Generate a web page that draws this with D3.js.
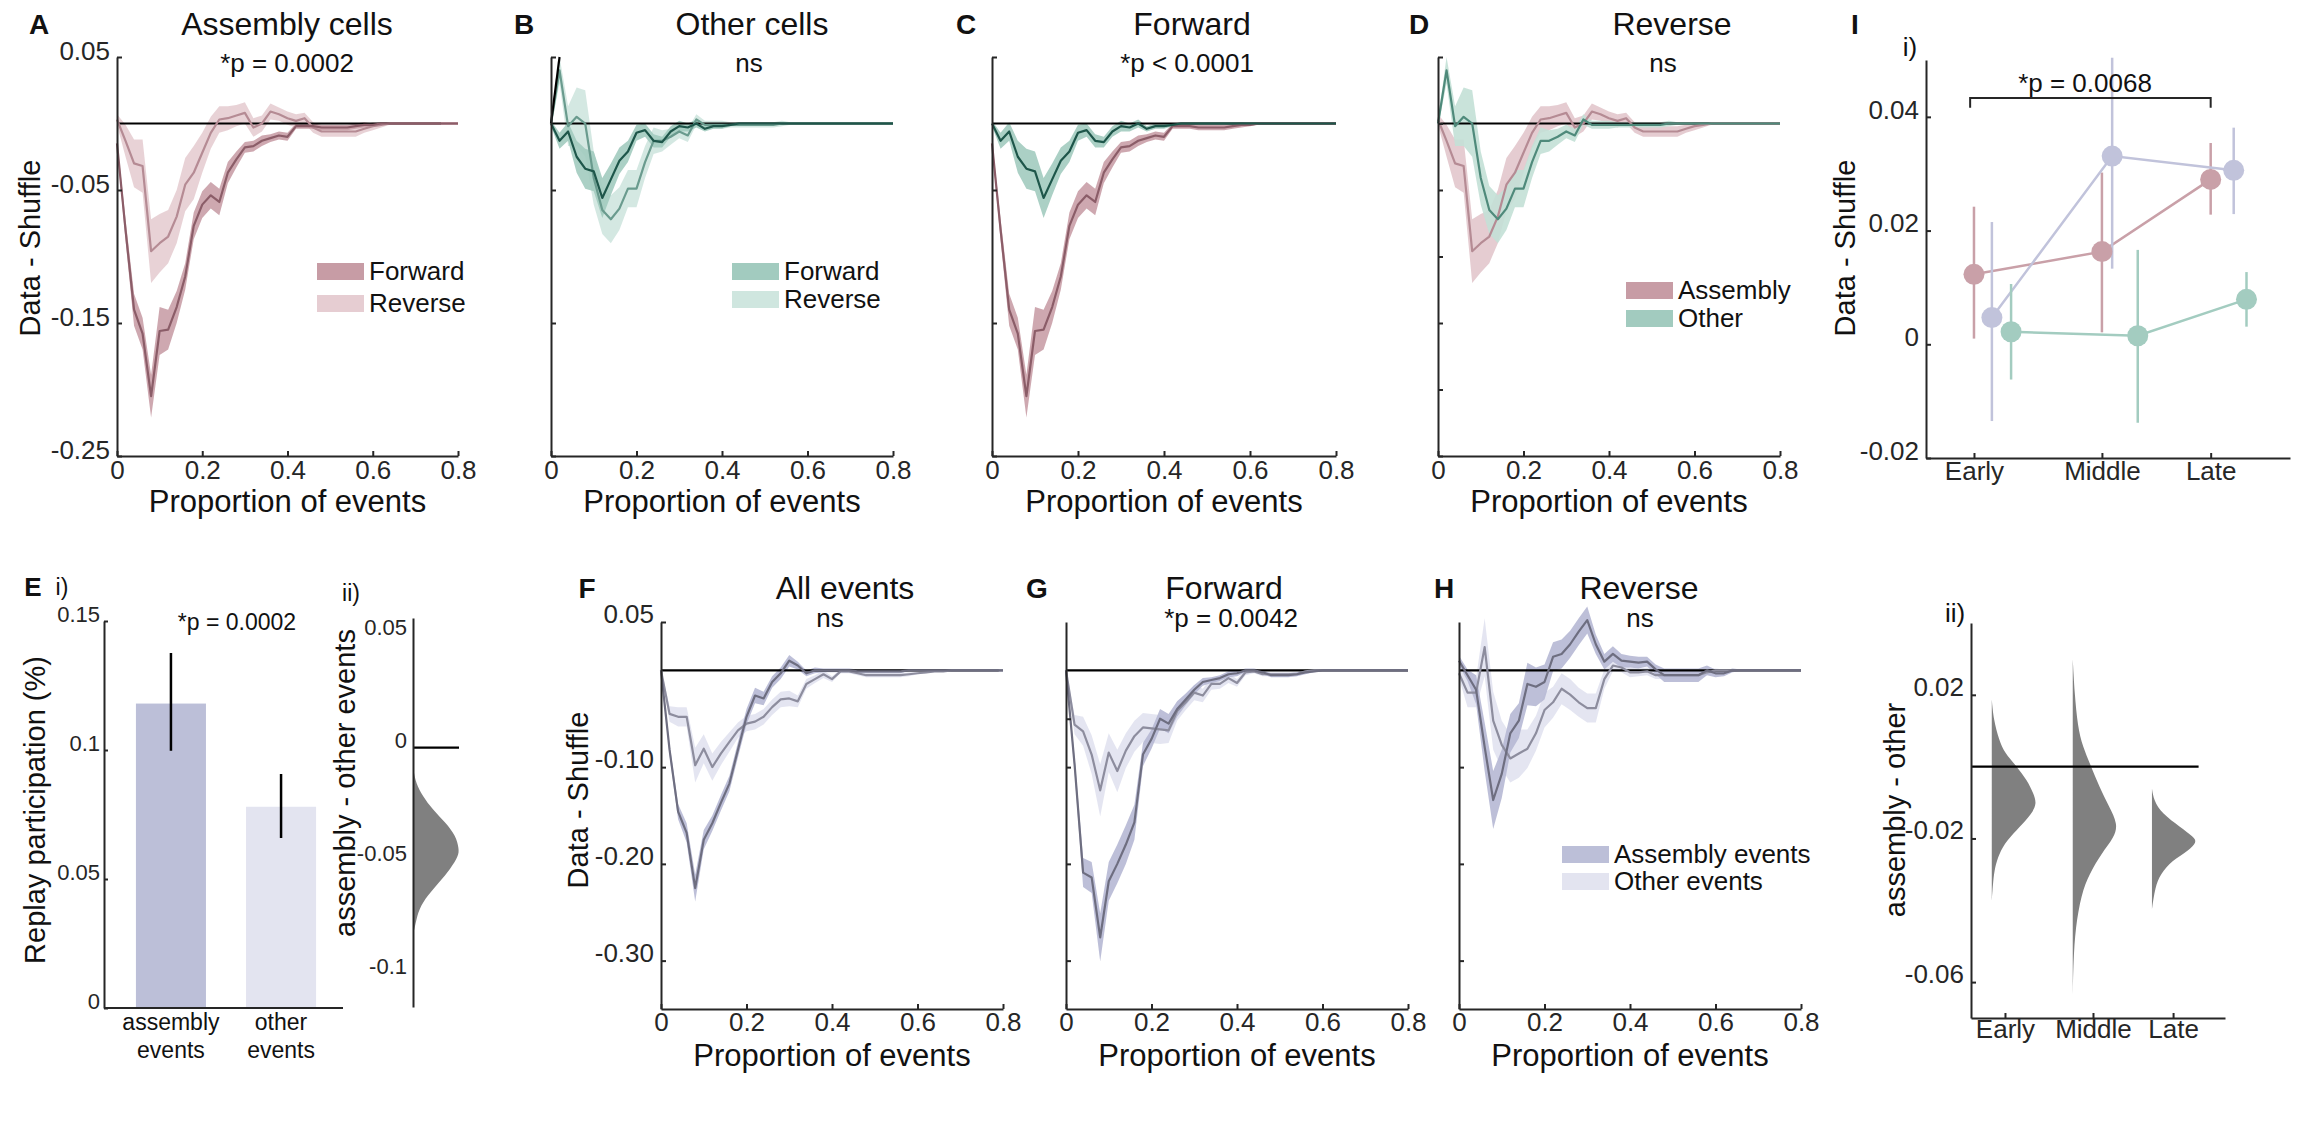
<!DOCTYPE html>
<html>
<head>
<meta charset="utf-8">
<title>Assembly replay figure</title>
<script src="https://cdn.jsdelivr.net/npm/d3@7"></script>
<style>
  body { margin: 0; background: #fff; }
  svg text { font-family: "Liberation Sans", Arial, Helvetica, sans-serif; }
</style>
</head>
<body>
<svg id="fig" width="2308" height="1126"></svg>
<script>

// ---------- data ----------
const propX = [0,0.02,0.04,0.06,0.08,0.1,0.12,0.14,0.16,0.18,
  0.2,0.22,0.24,0.26,0.28,0.3,0.32,0.34,0.36,0.38,
  0.4,0.42,0.44,0.46,0.48,0.5,0.52,0.54,0.56,0.58,
  0.6,0.62,0.64,0.66,0.68,0.7,0.72,0.74,0.76,0.78,0.8];
const xTickVals = [0, 0.2, 0.4, 0.6, 0.8];
const xTickLabels = ["0", "0.2", "0.4", "0.6", "0.8"];

// assembly cells
const asmFwd = [-0.015,-0.080,-0.140,-0.158,-0.205,-0.156,-0.155,-0.138,-0.115,-0.077,
  -0.061,-0.054,-0.059,-0.037,-0.027,-0.018,-0.017,-0.013,-0.011,-0.009,
  -0.010,-0.002,-0.002,-0.002,-0.003,-0.003,-0.003,-0.003,-0.002,-0.001,
  -0.001,0,0,0,0,0,0,0,0,0,0];
const asmFwdErr = [0.003,0.008,0.012,0.012,0.016,0.018,0.015,0.012,0.010,0.010,
  0.010,0.010,0.010,0.008,0.006,0.004,0.004,0.004,0.003,0.003,
  0.003,0.002,0.002,0.002,0.002,0.002,0.002,0.002,0.002,0.002,
  0.001,0.001,0.001,0.001,0.001,0.001,0.001,0.001,0.001,0.001,0.001];
const asmRev = [0.003,-0.013,-0.030,-0.032,-0.096,-0.090,-0.085,-0.070,-0.046,-0.037,
  -0.022,-0.007,0.003,0.004,0.006,0.008,-0.003,0.000,0.009,0.007,
  0.004,0.002,0.004,-0.003,-0.006,-0.006,-0.006,-0.006,-0.006,-0.004,
  -0.002,-0.001,0,0,0,0,0,0,0,0,0];
const asmRevErr = [0.004,0.012,0.018,0.020,0.024,0.022,0.020,0.020,0.020,0.020,
  0.015,0.012,0.010,0.009,0.008,0.008,0.007,0.006,0.006,0.005,
  0.005,0.005,0.004,0.004,0.004,0.004,0.004,0.004,0.004,0.003,
  0.003,0.002,0.001,0.001,0.001,0.001,0.001,0.001,0.001,0.001,0.001];

// other cells
const othFwd = [0,-0.013,-0.006,-0.025,-0.034,-0.036,-0.056,-0.042,-0.028,-0.021,
  -0.007,-0.005,-0.013,-0.014,-0.006,-0.002,-0.003,0,-0.004,-0.002,
  -0.002,-0.001,0,0,0,0,0,0,0,0,
  0,0,0,0,0,0,0,0,0,0,0];
const othFwdErr = [0.002,0.006,0.007,0.012,0.015,0.015,0.015,0.012,0.010,0.008,
  0.006,0.005,0.005,0.004,0.004,0.004,0.003,0.003,0.002,0.002,
  0.002,0.001,0.001,0.001,0.001,0.001,0.001,0.001,0.001,0.001,
  0.001,0.001,0.001,0.001,0.001,0.001,0.001,0.001,0.001,0.001,0.001];
const othRev = [0,0.040,-0.002,0.005,0,-0.041,-0.065,-0.072,-0.064,-0.049,
  -0.049,-0.029,-0.013,-0.013,-0.010,-0.006,-0.009,0.003,-0.001,-0.001,
  -0.001,-0.001,-0.001,-0.001,-0.001,-0.001,-0.001,0,0,0,
  0,0,0,0,0,0,0,0,0,0,0];
const othRevErr = [0.003,0.010,0.015,0.022,0.025,0.020,0.018,0.018,0.016,0.014,
  0.014,0.012,0.010,0.008,0.006,0.005,0.005,0.004,0.003,0.003,
  0.003,0.002,0.002,0.002,0.002,0.002,0.002,0.002,0.001,0.001,
  0.001,0.001,0.001,0.001,0.001,0.001,0.001,0.001,0.001,0.001,0.001];
const othStrayX = [0, 0.02];
const othStrayY = [0, 0.05];

// assembly events vs other events
const evAll = [0,-0.082,-0.146,-0.168,-0.225,-0.175,-0.158,-0.137,-0.117,-0.082,
  -0.048,-0.026,-0.029,-0.012,-0.003,0.010,0.005,-0.003,0,0,
  0,0,0,-0.001,-0.001,-0.001,-0.001,-0.001,-0.001,0,
  0,0,0,0,0,0,0,0,0,0,0];
const evAllErr = [0.002,0.006,0.008,0.010,0.014,0.010,0.008,0.008,0.008,0.008,
  0.008,0.008,0.007,0.006,0.006,0.006,0.004,0.003,0.003,0.002,
  0.002,0.002,0.002,0.002,0.002,0.002,0.002,0.002,0.002,0.001,
  0.001,0.001,0.001,0.001,0.001,0.001,0.001,0.001,0.001,0.001,0.001];
const evAllOth = [0,-0.045,-0.048,-0.048,-0.098,-0.081,-0.100,-0.086,-0.074,-0.062,
  -0.055,-0.053,-0.048,-0.038,-0.030,-0.029,-0.032,-0.014,-0.009,-0.004,
  -0.009,-0.001,-0.001,-0.003,-0.005,-0.005,-0.005,-0.005,-0.005,-0.004,
  -0.003,-0.002,-0.001,-0.001,0,0,0,0,0,0,0];
const evAllOthErr = [0.002,0.008,0.010,0.010,0.018,0.015,0.014,0.012,0.010,0.008,
  0.008,0.008,0.008,0.008,0.008,0.008,0.006,0.005,0.004,0.004,
  0.003,0.002,0.002,0.002,0.002,0.002,0.002,0.002,0.002,0.002,
  0.001,0.001,0.001,0.001,0.001,0.001,0.001,0.001,0.001,0.001,0.001];
const evFwd = [0,-0.097,-0.209,-0.214,-0.276,-0.218,-0.200,-0.180,-0.157,-0.087,
  -0.071,-0.050,-0.055,-0.040,-0.030,-0.020,-0.012,-0.010,-0.008,-0.004,
  -0.003,0,0,-0.002,-0.005,-0.005,-0.005,-0.004,-0.002,-0.001,
  0,0,0,0,0,0,0,0,0,0,0];
const evFwdErr = [0.002,0.008,0.015,0.016,0.025,0.020,0.020,0.020,0.018,0.012,
  0.010,0.010,0.010,0.008,0.006,0.005,0.004,0.003,0.003,0.003,
  0.003,0.002,0.002,0.002,0.002,0.002,0.002,0.002,0.002,0.001,
  0.001,0.001,0.001,0.001,0.001,0.001,0.001,0.001,0.001,0.001,0.001];
const evFwdOth = [0,-0.056,-0.063,-0.087,-0.124,-0.085,-0.104,-0.083,-0.068,-0.059,
  -0.060,-0.061,-0.062,-0.042,-0.033,-0.023,-0.026,-0.014,-0.014,-0.008,
  -0.013,-0.002,-0.001,-0.004,-0.004,-0.004,-0.004,-0.004,-0.001,0,
  0,0,0,0,0,0,0,0,0,0,0];
const evFwdOthErr = [0.002,0.010,0.015,0.020,0.027,0.020,0.022,0.018,0.016,0.015,
  0.015,0.015,0.013,0.010,0.008,0.008,0.007,0.006,0.005,0.005,
  0.004,0.003,0.002,0.002,0.002,0.002,0.002,0.002,0.002,0.001,
  0.001,0.001,0.001,0.001,0.001,0.001,0.001,0.001,0.001,0.001,0.001];
const evRev = [0.010,-0.005,-0.020,-0.079,-0.134,-0.107,-0.065,-0.052,-0.014,-0.017,
  -0.012,0.014,0.017,0.027,0.040,0.052,0.027,0.009,0.017,0.010,
  0.009,0.008,0.009,0.001,-0.005,-0.005,-0.005,-0.005,-0.005,0,
  -0.003,-0.003,0,0,0,0,0,0,0,0,0];
const evRevErr = [0.005,0.006,0.015,0.025,0.030,0.025,0.020,0.018,0.022,0.020,
  0.018,0.015,0.015,0.014,0.014,0.014,0.010,0.008,0.008,0.007,
  0.006,0.006,0.005,0.005,0.007,0.007,0.007,0.007,0.007,0.005,
  0.004,0.003,0.002,0.001,0.001,0.001,0.001,0.001,0.001,0.001,0.001];
const evRevOth = [-0.003,-0.023,-0.023,0.024,-0.052,-0.077,-0.091,-0.086,-0.081,-0.065,
  -0.041,-0.033,-0.019,-0.025,-0.033,-0.039,-0.039,-0.009,0.005,0.003,
  -0.002,-0.002,-0.001,-0.005,-0.005,-0.005,-0.005,-0.005,-0.005,-0.002,
  0,0,0,0,0,0,0,0,0,0,0];
const evRevOthErr = [0.005,0.015,0.015,0.030,0.030,0.025,0.025,0.025,0.020,0.018,
  0.018,0.016,0.016,0.016,0.015,0.015,0.015,0.010,0.006,0.005,
  0.005,0.004,0.004,0.004,0.004,0.004,0.004,0.004,0.004,0.003,
  0.002,0.001,0.001,0.001,0.001,0.001,0.001,0.001,0.001,0.001,0.001];

// E i) bars
const barNames = ["assembly events", "other events"];
const barLines = [["assembly", "events"], ["other", "events"]];
const barVals = [0.118, 0.078];
const barLo = [0.0997, 0.0659];
const barHi = [0.1376, 0.0907];
// E ii) distribution of assembly - other
const diffY = [-0.0111,-0.0155,-0.0214,-0.0273,-0.0332,-0.0391,-0.045,-0.0479,-0.0538,-0.0597,-0.0656,-0.0715,-0.0774,-0.0811];
const diffDens = [0,0.04,0.19,0.41,0.70,0.93,1,0.99,0.81,0.56,0.30,0.11,0.04,0];

// I i) stages
const stageNames = ["Early", "Middle", "Late"];
const stageTickX = [1, 2, 2.85];
const asmCellX = [1, 2.0, 2.85];
const asmCellMean = [0.0123, 0.0163, 0.0290];
const asmCellLo = [0.0010, 0.0021, 0.0228];
const asmCellHi = [0.0242, 0.0302, 0.0354];
const asmEvX = [1.14, 2.08, 3.03];
const asmEvMean = [0.0047, 0.0331, 0.0306];
const asmEvLo = [-0.0135, 0.0133, 0.0229];
const asmEvHi = [0.0215, 0.0504, 0.0381];
const othCellX = [1.29, 2.28, 3.13];
const othCellMean = [0.0022, 0.0015, 0.0079];
const othCellLo = [-0.0062, -0.0138, 0.0031];
const othCellHi = [0.0106, 0.0166, 0.0127];
const bracketX = [0.97, 2.85];
const bracketTop = 0.0433, bracketFoot = 0.0416;

// I ii) distributions per stage
const stageTickX2 = [1, 2, 2.91];
const stageViolinX = [0.85, 1.77, 2.67];
const earlyY = [0.0187,0.0131,0.0075,0.0037,0,-0.0037,-0.0075,-0.0103,-0.0131,-0.0168,-0.0206,-0.0243,-0.028,-0.0318,-0.0374];
const earlyDens = [0,0.04,0.16,0.29,0.56,0.78,0.93,1,0.89,0.62,0.33,0.16,0.07,0.03,0];
const middleY = [0.0299,0.0206,0.0112,0.0056,0,-0.0056,-0.0112,-0.0159,-0.0196,-0.0243,-0.0299,-0.0355,-0.0449,-0.0542,-0.0636];
const middleDens = [0,0.04,0.11,0.22,0.41,0.59,0.81,1,0.93,0.63,0.37,0.19,0.06,0.015,0];
const lateY = [-0.0061,-0.0093,-0.0131,-0.0168,-0.0196,-0.021,-0.0234,-0.0262,-0.0299,-0.0336,-0.0397];
const lateDens = [0,0.04,0.22,0.63,0.93,1,0.81,0.44,0.19,0.07,0];

// ---------- drawing ----------
const FONT = '"Liberation Sans", Arial, sans-serif';
const INK = "#262626";
const svg = d3.select("#fig");

function txt(x, y, s, size, o = {}) {
    const t = svg.append("text")
        .attr("x", x).attr("y", y).attr("dy", "0.35em")
        .attr("text-anchor", o.anchor || "middle")
        .attr("font-size", size)
        .attr("font-weight", o.bold ? "bold" : "normal")
        .attr("fill", "#111")
        .text(s);
    if (o.rotate) t.attr("transform", `rotate(-90,${x},${y})`);
    return t;
}

function styleAxis(g, size, dy) {
    g.attr("font-family", FONT).attr("font-size", size);
    g.select(".domain").attr("stroke", INK).attr("stroke-width", 2);
    g.selectAll(".tick line").attr("stroke", INK).attr("stroke-width", 2);
    g.selectAll(".tick text").attr("fill", INK);
    if (dy !== undefined) g.selectAll(".tick text").attr("dy", dy);
}

function legend(x, y, labels, colors, gap) {
    labels.forEach((l, i) => {
        svg.append("rect").attr("x", x).attr("y", y + i * gap - 8)
            .attr("width", 47).attr("height", 17).attr("fill", colors[i]);
        txt(x + 52, y + i * gap, l, 26, { anchor: "start" });
    });
}

const rows = [
    { top: 57, bottom: 456, yDomain: [-0.25, 0.05], head: 24, stat: 63, xTitle: 501, xPad: 5 },
    { top: 622, bottom: 1009, yDomain: [-0.35, 0.05], head: 588, stat: 618, xTitle: 1055, xPad: 4 }
];

function curvePanel(p) {
    const r = rows[p.row];
    const x = d3.scaleLinear().domain([0, 0.8]).range([p.left, p.right]);
    const y = d3.scaleLinear().domain(r.yDomain).range([r.bottom, r.top]);
    const g = svg.append("g");

    const band = d3.area().x(d => x(d.x)).y0(d => y(d.y - d.e)).y1(d => y(d.y + d.e));
    const line = d3.line().x(d => x(d.x)).y(d => y(d.y));
    const pts = p.series.map(s => propX.map((v, i) => ({ x: v, y: s.y[i], e: s.err[i] })));

    p.series.forEach((s, k) => {
        g.append("path").datum(pts[k]).attr("fill", s.band).attr("fill-opacity", 0.9).attr("d", band);
    });
    g.append("line")   // zero reference
        .attr("x1", x(0)).attr("x2", x(p.zeroTo))
        .attr("y1", y(0)).attr("y2", y(0))
        .attr("stroke", "#000").attr("stroke-width", 2.2);
    p.series.forEach((s, k) => {
        g.append("path").datum(pts[k]).attr("fill", "none")
            .attr("stroke", s.line).attr("stroke-width", 2.2)
            .attr("stroke-linejoin", "round").attr("d", line);
    });
    if (p.stray) {
        g.append("path").datum(p.stray.x.map((v, i) => ({ x: v, y: p.stray.y[i] })))
            .attr("fill", "none").attr("stroke", "#000").attr("stroke-width", 2.2).attr("d", line);
    }

    const ya = g.append("g").attr("transform", `translate(${p.left},0)`)
        .call(d3.axisLeft(y).tickValues(p.yTicks).tickSizeInner(-5).tickSizeOuter(0).tickPadding(7)
            .tickFormat((d, i) => p.yLabels ? p.yLabels[i] : ""));
    styleAxis(ya, 26, p.row === 0 ? "0.08em" : "0.02em");

    const xa = g.append("g").attr("transform", `translate(0,${r.bottom})`)
        .call(d3.axisBottom(x).tickValues(xTickVals).tickSizeInner(-5).tickSizeOuter(0).tickPadding(r.xPad)
            .tickFormat((d, i) => xTickLabels[i]));
    styleAxis(xa, 26);

    txt((p.left + p.right) / 2, r.xTitle, "Proportion of events", 31);
    txt(p.letterX, r.head, p.letter, 28, { bold: true });
    txt(p.titleX, r.head, p.title, 32);
    txt(p.statX, r.stat, p.stat, 26);
    if (p.yTitleX) txt(p.yTitleX, p.yTitleY, "Data - Shuffle", 29, { rotate: true });
}

// colours
const roseBand = "#c99ea7", roseBandLt = "#e6cdd2", roseLine = "#8b5d68", roseLineLt = "#b58b94";
const greenBand = "#a2cbbf", greenBandLt = "#cfe6df", greenLine = "#1e564a", greenLineLt = "#6a9b8e";
const lavBand = "#b6b8d4", lavBandLt = "#e1e2ef", lavLine = "#6e6e80", lavLineLt = "#8d8d9e";

const panels = [
    { letter: "A", letterX: 39, title: "Assembly cells", titleX: 287, stat: "*p = 0.0002", statX: 287,
      row: 0, left: 117, right: 458, zeroTo: 0.76,
      yTicks: [0.05, -0.05, -0.15, -0.25], yLabels: ["0.05", "-0.05", "-0.15", "-0.25"],
      yTitleX: 30, yTitleY: 248,
      series: [{ y: asmRev, err: asmRevErr, band: roseBandLt, line: roseLineLt },
               { y: asmFwd, err: asmFwdErr, band: roseBand, line: roseLine }] },
    { letter: "B", letterX: 524, title: "Other cells", titleX: 752, stat: "ns", statX: 749,
      row: 0, left: 551, right: 893, zeroTo: 0.8, yTicks: [0.05, -0.05, -0.15, -0.25],
      stray: { x: othStrayX, y: othStrayY },
      series: [{ y: othRev, err: othRevErr, band: greenBandLt, line: greenLineLt },
               { y: othFwd, err: othFwdErr, band: greenBand, line: greenLine }] },
    { letter: "C", letterX: 966, title: "Forward", titleX: 1192, stat: "*p < 0.0001", statX: 1187,
      row: 0, left: 992, right: 1336, zeroTo: 0.8, yTicks: [0.05, -0.05, -0.15, -0.25],
      series: [{ y: asmFwd, err: asmFwdErr, band: roseBand, line: roseLine },
               { y: othFwd, err: othFwdErr, band: greenBand, line: greenLine }] },
    { letter: "D", letterX: 1419, title: "Reverse", titleX: 1672, stat: "ns", statX: 1663,
      row: 0, left: 1438, right: 1780, zeroTo: 0.8,
      yTicks: [0.05, 0, -0.05, -0.1, -0.15, -0.2, -0.25],
      series: [{ y: asmRev, err: asmRevErr, band: "#e2c6cc", line: roseLineLt },
               { y: othRev, err: othRevErr, band: "#c3e0d6", line: "#4f8a7b" }] },
    { letter: "F", letterX: 587, title: "All events", titleX: 845, stat: "ns", statX: 830,
      row: 1, left: 661, right: 1003, zeroTo: 0.79,
      yTicks: [0.05, -0.1, -0.2, -0.3], yLabels: ["0.05", "-0.10", "-0.20", "-0.30"],
      yTitleX: 578, yTitleY: 800,
      series: [{ y: evAllOth, err: evAllOthErr, band: lavBandLt, line: lavLineLt },
               { y: evAll, err: evAllErr, band: lavBand, line: lavLine }] },
    { letter: "G", letterX: 1037, title: "Forward", titleX: 1224, stat: "*p = 0.0042", statX: 1231,
      row: 1, left: 1066, right: 1408, zeroTo: 0.8, yTicks: [-0.05, -0.1, -0.2, -0.3],
      series: [{ y: evFwdOth, err: evFwdOthErr, band: lavBandLt, line: lavLineLt },
               { y: evFwd, err: evFwdErr, band: lavBand, line: lavLine }] },
    { letter: "H", letterX: 1444, title: "Reverse", titleX: 1639, stat: "ns", statX: 1640,
      row: 1, left: 1459, right: 1801, zeroTo: 0.8, yTicks: [-0.1, -0.2, -0.3],
      series: [{ y: evRevOth, err: evRevOthErr, band: lavBandLt, line: lavLineLt },
               { y: evRev, err: evRevErr, band: lavBand, line: lavLine }] }
];
panels.forEach(curvePanel);

legend(317, 271, ["Forward", "Reverse"], ["#c79ca5", roseBandLt], 32);
legend(732, 271, ["Forward", "Reverse"], [greenBand, greenBandLt], 28);
legend(1626, 290, ["Assembly", "Other"], ["#c79ca5", greenBand], 28);
legend(1562, 854, ["Assembly events", "Other events"], ["#bcbfd8", "#e3e4f0"], 27);

// ---- E i) bar chart ----
(function () {
    const y = d3.scaleLinear().domain([0, 0.15]).range([1008, 621]);
    const x = d3.scaleBand().domain(barNames).range([104, 348]).paddingInner(0.364).paddingOuter(0.29);
    const colors = ["#bcbfd8", "#e3e4f0"];
    const g = svg.append("g");
    g.selectAll("rect.bar").data(barNames).join("rect").attr("class", "bar")
        .attr("x", d => x(d)).attr("width", x.bandwidth())
        .attr("y", (d, i) => y(barVals[i])).attr("height", (d, i) => y(0) - y(barVals[i]))
        .attr("fill", (d, i) => colors[i]);
    g.selectAll("line.err").data(barNames).join("line").attr("class", "err")
        .attr("x1", d => x(d) + x.bandwidth() / 2).attr("x2", d => x(d) + x.bandwidth() / 2)
        .attr("y1", (d, i) => y(barLo[i])).attr("y2", (d, i) => y(barHi[i]))
        .attr("stroke", "#000").attr("stroke-width", 2.5);
    const ya = g.append("g").attr("transform", "translate(104,0)")
        .call(d3.axisLeft(y).tickValues([0, 0.05, 0.1, 0.15]).tickSizeInner(-4).tickSizeOuter(0).tickPadding(4)
            .tickFormat((d, i) => ["0", "0.05", "0.1", "0.15"][i]));
    styleAxis(ya, 22, "0em");
    g.append("line").attr("x1", 104).attr("x2", 343).attr("y1", 1008).attr("y2", 1008)
        .attr("stroke", INK).attr("stroke-width", 2);
    barNames.forEach((d, i) => {
        const cx = x(d) + x.bandwidth() / 2;
        txt(cx, 1022, barLines[i][0], 23);
        txt(cx, 1050, barLines[i][1], 23);
    });
    txt(237, 622, "*p = 0.0002", 23);
    txt(33, 587, "E", 26, { bold: true });
    txt(62, 587, "i)", 23);
    txt(35, 810, "Replay participation (%)", 29, { rotate: true });
})();

// ---- E ii) half violin ----
(function () {
    const y = d3.scaleLinear().domain([-0.115, 0.0575]).range([1007, 618]);
    const base = 414, w = 45;
    const g = svg.append("g");
    g.append("path").datum(diffY.map((v, i) => ({ v, d: diffDens[i] })))
        .attr("fill", "#808080")
        .attr("d", d3.area().curve(d3.curveBasis).y(d => y(d.v)).x0(base).x1(d => base + w * d.d));
    g.append("line").attr("x1", 413).attr("x2", 459).attr("y1", y(0)).attr("y2", y(0))
        .attr("stroke", "#000").attr("stroke-width", 2.2);
    const ya = g.append("g").attr("transform", "translate(413,0)")
        .call(d3.axisLeft(y).tickValues([0.05, 0, -0.05, -0.1]).tickSize(0).tickPadding(6)
            .tickFormat((d, i) => ["0.05", "0", "-0.05", "-0.1"][i]));
    styleAxis(ya, 22, "0em");
    txt(351, 593, "ii)", 23);
    txt(345, 783, "assembly - other events", 29, { rotate: true });
})();

// ---- I i) stage means ----
(function () {
    const x = d3.scaleLinear().domain([0.625, 3.47]).range([1926, 2290]);
    const y = d3.scaleLinear().domain([-0.02, 0.05]).range([458, 60]);
    const g = svg.append("g");
    const groups = [
        { x: asmCellX, m: asmCellMean, lo: asmCellLo, hi: asmCellHi, c: "#c9a0a8" },
        { x: asmEvX, m: asmEvMean, lo: asmEvLo, hi: asmEvHi, c: "#c1c3db" },
        { x: othCellX, m: othCellMean, lo: othCellLo, hi: othCellHi, c: "#a3ccc0" }
    ];
    const line = d3.line().x(d => x(d[0])).y(d => y(d[1]));
    groups.forEach(s => {
        g.append("path").datum(s.x.map((v, i) => [v, s.m[i]]))
            .attr("fill", "none").attr("stroke", s.c).attr("stroke-width", 2.5).attr("d", line);
        g.selectAll(null).data(s.x).join("line")
            .attr("x1", d => x(d)).attr("x2", d => x(d))
            .attr("y1", (d, i) => y(s.lo[i])).attr("y2", (d, i) => y(s.hi[i]))
            .attr("stroke", s.c).attr("stroke-width", 2.5);
    });
    groups.forEach(s => {
        g.selectAll(null).data(s.x).join("circle")
            .attr("cx", d => x(d)).attr("cy", (d, i) => y(s.m[i])).attr("r", 10.5)
            .attr("fill", s.c);
    });
    const ya = g.append("g").attr("transform", "translate(1926,0)")
        .call(d3.axisLeft(y).tickValues([0.04, 0.02, 0, -0.02]).tickSizeInner(-5).tickSizeOuter(0).tickPadding(7)
            .tickFormat((d, i) => ["0.04", "0.02", "0", "-0.02"][i]));
    styleAxis(ya, 26, "0.05em");
    const xa = g.append("g").attr("transform", "translate(0,458)")
        .call(d3.axisBottom(x).tickValues(stageTickX).tickSizeInner(-5).tickSizeOuter(0).tickPadding(4)
            .tickFormat((d, i) => stageNames[i]));
    styleAxis(xa, 26);
    const b = d3.path();
    b.moveTo(x(bracketX[0]), y(bracketFoot));
    b.lineTo(x(bracketX[0]), y(bracketTop));
    b.lineTo(x(bracketX[1]), y(bracketTop));
    b.lineTo(x(bracketX[1]), y(bracketFoot));
    g.append("path").attr("d", b.toString()).attr("fill", "none").attr("stroke", INK).attr("stroke-width", 2);
    txt(2085, 83, "*p = 0.0068", 26);
    txt(1855, 24, "I", 28, { bold: true });
    txt(1910, 47, "i)", 26);
    txt(1845, 248, "Data - Shuffle", 29, { rotate: true });
})();

// ---- I ii) distributions per stage ----
(function () {
    const x = d3.scaleLinear().domain([0.614, 3.5]).range([1971, 2225]);
    const y = d3.scaleLinear().domain([-0.07, 0.04]).range([1018, 623]);
    const w = 45;
    const g = svg.append("g");
    const dists = [[earlyY, earlyDens], [middleY, middleDens], [lateY, lateDens]];
    dists.forEach((dd, k) => {
        const base = x(stageViolinX[k]);
        g.append("path").datum(dd[0].map((v, i) => ({ v, d: dd[1][i] })))
            .attr("fill", "#808080")
            .attr("d", d3.area().curve(d3.curveBasis).y(d => y(d.v)).x0(base).x1(d => base + w * d.d));
    });
    g.append("line").attr("x1", x(0.614)).attr("x2", x(3.2)).attr("y1", y(0)).attr("y2", y(0))
        .attr("stroke", "#000").attr("stroke-width", 2.2);
    const ya = g.append("g").attr("transform", "translate(1971,0)")
        .call(d3.axisLeft(y).tickValues([0.02, -0.02, -0.06]).tickSizeInner(-5).tickSizeOuter(0).tickPadding(7)
            .tickFormat((d, i) => ["0.02", "-0.02", "-0.06"][i]));
    styleAxis(ya, 26, "0.02em");
    const xa = g.append("g").attr("transform", "translate(0,1018)")
        .call(d3.axisBottom(x).tickValues(stageTickX2).tickSizeInner(-5).tickSizeOuter(0).tickPadding(2)
            .tickFormat((d, i) => stageNames[i]));
    styleAxis(xa, 26);
    txt(1955, 613, "ii)", 26);
    txt(1895, 810, "assembly - other", 29, { rotate: true });
})();

</script>
</body>
</html>
